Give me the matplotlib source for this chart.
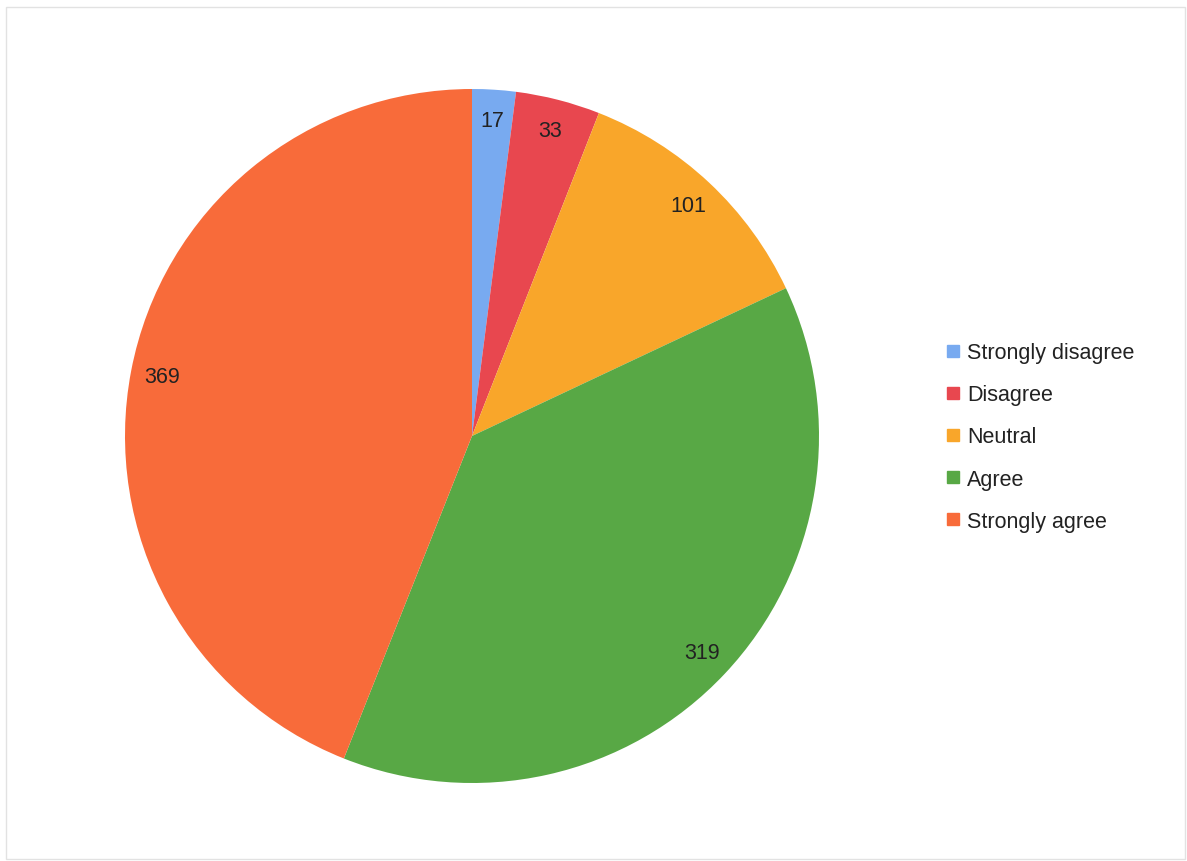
import matplotlib
matplotlib.use("Agg")
import matplotlib.pyplot as plt
from matplotlib.lines import Line2D
from matplotlib.patches import Rectangle

categories = ["Strongly disagree", "Disagree", "Neutral", "Agree", "Strongly agree"]
values = [17, 33, 101, 319, 369]
colors = ["#78aaf0", "#e8474f", "#f9a62a", "#58a845", "#f86b3a"]

plt.rcParams['font.family'] = ['Liberation Sans', 'DejaVu Sans']

W, H = 1187, 862
fig = plt.figure(figsize=(W / 100, H / 100), dpi=100)
fig.patch.set_facecolor("white")

# faint border
fig.add_artist(Rectangle((6 / W, 2 / H), (1185 - 6) / W, (854 - 2) / H,
                         transform=fig.transFigure, fill=False,
                         edgecolor="#e2e2e2", linewidth=1))

cx, cy, r = 472, 437, 347
ax = fig.add_axes([(cx - r) / W, (H - cy - r) / H, 2 * r / W, 2 * r / H])

total = sum(values)

def fmt(p):
    return "%d" % round(p * total / 100.0)

wedges, texts, autotexts = ax.pie(values, colors=colors, startangle=90,
                                  counterclock=False, autopct=fmt,
                                  pctdistance=0.91, radius=1.0,
                                  wedgeprops=dict(linewidth=0))
for t in autotexts:
    t.set_fontsize(15.5)
    t.set_color("#222222")
ax.set_xlim(-1, 1)
ax.set_ylim(-1, 1)
ax.set_aspect("equal")

handles = [Line2D([0], [0], marker="s", linestyle="none", markersize=8,
                  markerfacecolor=c, markeredgecolor=c) for c in colors]
leg = fig.legend(handles, categories, loc="center left",
                 bbox_to_anchor=(937 / W, 1 - 438 / H), frameon=False,
                 fontsize=15.5, handlelength=0.7, handletextpad=0.3,
                 labelspacing=0.98, borderaxespad=0)
for t in leg.get_texts():
    t.set_color("#222222")

fig.savefig("out.png", dpi=100, facecolor="white")
